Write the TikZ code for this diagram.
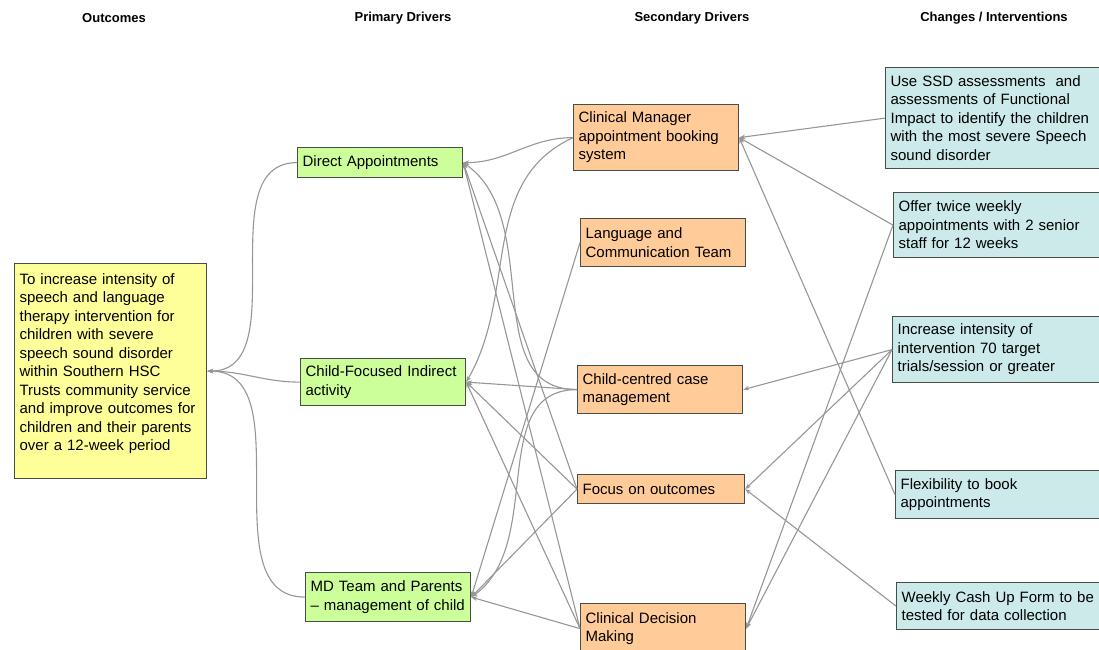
\documentclass[tikz,border=0pt]{standalone}
\usepackage{fontspec}
\setmainfont{Liberation Sans}
\usetikzlibrary{arrows.meta,positioning}
\definecolor{boxline}{RGB}{70,78,70}
\definecolor{linkcolor}{RGB}{150,150,150}
\definecolor{outfill}{RGB}{255,255,153}
\definecolor{primfill}{RGB}{204,255,153}
\definecolor{secfill}{RGB}{255,204,153}
\definecolor{chgfill}{RGB}{204,234,234}
\tikzset{
	box/.style={
		rectangle,
		draw=boxline,
		line width=1.2pt,
		inner xsep=5pt,
		inner ysep=3pt,
		align=left,
		anchor=north west,
		font=\fontsize{15}{18.5}\selectfont
	},
	outcome/.style={
		box,
		fill=outfill,
		text width=182pt,
		minimum height=215pt
	},
	primary/.style={
		box,
		fill=primfill,
		text width=155pt
	},
	secondary/.style={
		box,
		fill=secfill,
		text width=155pt
	},
	change/.style={
		box,
		fill=chgfill,
		text width=210pt
	},
	heading/.style={
		font=\fontsize{13}{15}\selectfont\bfseries
	},
	arrow/.style={
		draw=linkcolor,
		line width=1.1pt,
		-{Stealth[length=6pt,width=4.5pt]}
	},
}

\begin{document}
\begin{tikzpicture}[x=1pt,y=-1pt]
\path[use as bounding box,clip] (0,0) rectangle (1099,649);

% column titles
\node[heading] (hout) at (114,18) {Outcomes};
\node[heading] (hprim) at (403,18) {Primary Drivers};
\node[heading] (hsec) at (692,18) {Secondary Drivers};
\node[heading] (hchg) at (994,18) {Changes / Interventions};

% outcome
\node[outcome] (out) at (14,263) {To increase intensity of\\speech and language\\therapy intervention for\\children with severe\\speech sound disorder\\within Southern HSC\\Trusts community service\\and improve outcomes for\\children and their parents\\over a 12-week period\\\mbox{}};

% primary drivers
\node[primary,minimum height=30pt] (da) at (297,147) {Direct Appointments};
\node[primary,minimum height=47pt] (cf) at (300,358) {Child-Focused Indirect\\activity};
\node[primary,minimum height=49pt] (md) at (305,572) {MD Team and Parents\\-- management of child};

% secondary drivers
\node[secondary,minimum height=66pt] (cm) at (573,104) {Clinical Manager\\appointment booking\\system};
\node[secondary,minimum height=48pt] (lct) at (580,218) {Language and\\Communication Team};
\node[secondary,minimum height=48pt] (ccm) at (577,365) {Child-centred case\\management};
\node[secondary,minimum height=29pt,text width=157pt] (fo) at (577,474) {Focus on outcomes};
\node[secondary,minimum height=50pt] (cdm) at (580,603) {Clinical Decision\\Making};

% changes / interventions
\node[change,minimum height=101pt] (ssd) at (885,67) {Use SSD assessments~ and\\assessments of Functional\\Impact to identify the children\\with the most severe Speech\\sound disorder};
\node[change,minimum height=65pt] (otw) at (893,192) {Offer twice weekly\\appointments with 2 senior\\staff for 12 weeks};
\node[change,minimum height=66pt] (inc) at (892,316) {Increase intensity of\\intervention 70 target\\trials/session or greater};
\node[change,minimum height=48pt] (flex) at (895,470) {Flexibility to book\\appointments};
\node[change,minimum height=47pt] (wcu) at (896,582) {Weekly Cash Up Form to be\\tested for data collection};

% primary -> outcome
\path[every edge/.style={arrow}]
(da.west) edge[out=180,in=0] (out.east)
(cf.west) edge[out=180,in=0] (out.east)
(md.west) edge[out=180,in=0] (out.east)
;

% secondary -> primary
\path[every edge/.style={arrow}]
(cm.west) edge[out=180,in=0] (da.east)
(cm.west) edge[out=205,in=60] (cf.east)
(ccm.west) edge[out=180,in=-35] (da.east)
(ccm.west) edge (cf.east)
(ccm.west) edge[out=180,in=35] (md.east)
(lct.west) edge (md.east)
(fo.west) edge (da.east)
(fo.west) edge (cf.east)
(fo.west) edge (md.east)
(cdm.west) edge (da.east)
(cdm.west) edge (cf.east)
(cdm.west) edge (md.east)
;

% changes -> secondary
\path[every edge/.style={arrow}]
(ssd.west) edge (cm.east)
(otw.west) edge (cm.east)
(flex.west) edge (cm.east)
(otw.west) edge (cdm.east)
(inc.west) edge (ccm.east)
(inc.west) edge (fo.east)
(inc.west) edge (cdm.east)
(wcu.west) edge (fo.east)
;
\end{tikzpicture}
\end{document}
